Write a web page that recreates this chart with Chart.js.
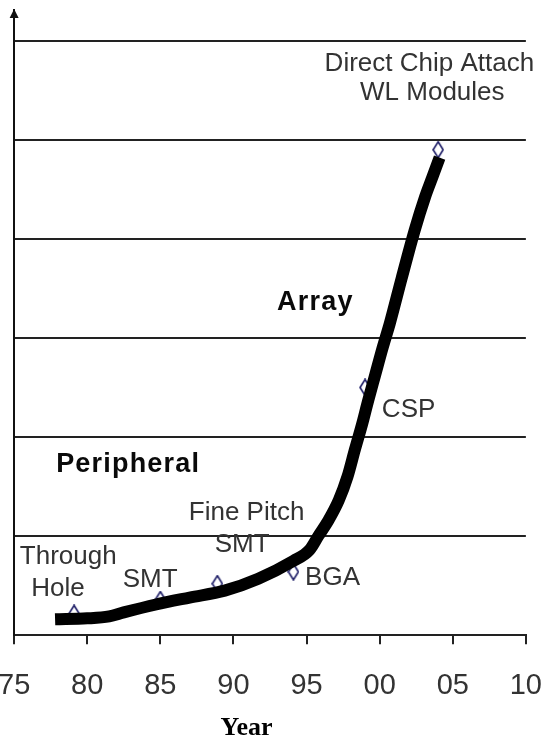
<!DOCTYPE html>
<html>
<head>
<meta charset="utf-8">
<script src="https://cdn.jsdelivr.net/npm/chart.js@4.4.1/dist/chart.umd.min.js"></script>
<style>
html, body { margin: 0; padding: 0; background: #fff; overflow: hidden; }
#wrap { position: absolute; left: -26px; top: 0; width: 592px; height: 741px; }
</style>
</head>
<body>
<div id="wrap"><canvas id="packagingChart"></canvas></div>
<script>
// anos no formato 75..110 (100 = 2000)
const curveYears  = [77.8, 80, 81.5, 82.5, 84.7, 87, 89.4, 91.7, 94.1, 95.2, 95.8, 96.5, 97.2, 97.8, 98.3, 98.8, 99.2, 99.7, 100.2, 100.7, 101.5, 102.4, 103.1, 103.6, 104.1];
const curveValues = [0.16, 0.17, 0.19, 0.23, 0.31, 0.38, 0.45, 0.57, 0.75, 0.86, 1.0, 1.16, 1.36, 1.6, 1.87, 2.13, 2.36, 2.63, 2.9, 3.15, 3.6, 4.09, 4.42, 4.62, 4.82];

const markerYears  = [79.1, 85.0, 88.9, 94.1, 99.0, 104.0];
const markerValues = [0.22, 0.36, 0.52, 0.64, 2.5, 4.9];

const tickYears  = [75, 80, 85, 90, 95, 100, 105, 110];
const tickLabels = ['75', '80', '85', '90', '95', '00', '05', '10'];

const noteTexts  = ['Direct Chip Attach', 'WL Modules', 'Array', 'CSP', 'Peripheral', 'Fine Pitch', 'SMT', 'Through', 'Hole', 'SMT', 'BGA'];
const noteYears  = [103.4, 103.6, 95.6, 100.15, 82.8, 90.9, 90.6, 78.7, 78.0, 84.3, 94.9];
const noteValues = [5.77, 5.47, 3.36, 2.27, 1.72, 1.24, 0.91, 0.79, 0.47, 0.56, 0.58];

const axisTitle = 'Year';

// marcador em losango (aberto, azul escuro)
const diamond = document.createElement('canvas');
diamond.width = 12;
diamond.height = 18;
const dctx = diamond.getContext('2d');
dctx.beginPath();
dctx.moveTo(6, 1);
dctx.lineTo(11, 9);
dctx.lineTo(6, 17);
dctx.lineTo(1, 9);
dctx.closePath();
dctx.fillStyle = '#fff';
dctx.fill();
dctx.strokeStyle = '#1c1c66';
dctx.lineWidth = 1.6;
dctx.stroke();

const boldNotes = ['Array', 'Peripheral'];
const leftNotes = ['CSP', 'BGA'];

const notesPlugin = {
    id: 'notes',
    afterDatasetsDraw(chart) {
        const c = chart.ctx;
        const x = chart.scales.x, y = chart.scales.y;
        c.save();
        c.textBaseline = 'middle';
        noteTexts.forEach((t, i) => {
            const bold = boldNotes.includes(t);
            c.font = (bold ? 'bold 27px ' : '26px ') + '"Liberation Sans", Arial, sans-serif';
            c.letterSpacing = bold ? '1.2px' : '0px';
            c.fillStyle = bold ? '#0a0a0a' : '#333';
            c.textAlign = leftNotes.includes(t) ? 'left' : 'center';
            c.fillText(t, x.getPixelForValue(noteYears[i]), y.getPixelForValue(noteValues[i]));
        });
        // seta no topo do eixo Y
        const ax = chart.chartArea.left, top = chart.chartArea.top;
        c.letterSpacing = '0px';
        c.fillStyle = '#111';
        c.beginPath();
        c.moveTo(ax, top - 1);
        c.lineTo(ax + 4.5, top + 8);
        c.lineTo(ax - 4.5, top + 8);
        c.closePath();
        c.fill();
        // titulo do eixo X
        c.font = 'bold 26px "Liberation Serif", "Times New Roman", serif';
        c.textAlign = 'center';
        c.fillStyle = '#000';
        c.fillText(axisTitle, x.getPixelForValue(90.9), chart.chartArea.bottom + 93);
        c.restore();
    }
};

const ctx = document.getElementById('packagingChart').getContext('2d');

let packagingChart = new Chart(ctx, {
    type: 'scatter',
    data: {
        datasets: [{
            label: 'Curva',
            data: curveYears.map((yr, i) => ({ x: yr, y: curveValues[i] })),
            showLine: true,
            borderColor: '#000',
            borderWidth: 12,
            borderCapStyle: 'butt',
            borderJoinStyle: 'round',
            cubicInterpolationMode: 'monotone',
            pointRadius: 0
        }, {
            label: 'Marcos',
            data: markerYears.map((yr, i) => ({ x: yr, y: markerValues[i] })),
            pointStyle: diamond,
            pointRadius: 6
        }]
    },
    options: {
        responsive: true,
        maintainAspectRatio: false,
        animation: false,
        layout: { padding: { left: 28, right: 16, top: 10, bottom: 14 } },
        plugins: { legend: { display: false }, tooltip: { enabled: false } },
        scales: {
            x: {
                type: 'linear',
                min: 75,
                max: 110,
                afterBuildTicks: s => { s.ticks = tickYears.map(v => ({ value: v })); },
                ticks: {
                    callback: v => tickLabels[tickYears.indexOf(v)],
                    font: { family: '"Liberation Sans", Arial, sans-serif', size: 29 },
                    color: '#333',
                    padding: 24,
                    maxRotation: 0,
                    autoSkip: false
                },
                grid: { drawOnChartArea: false, drawTicks: true, tickLength: 9, color: '#222', lineWidth: 2 },
                border: { display: true, color: '#222', width: 2 }
            },
            y: {
                min: 0,
                max: 6.31,
                afterBuildTicks: s => { s.ticks = s.ticks.filter(t => Number.isInteger(t.value)); },
                ticks: { display: false, stepSize: 1 },
                grid: { drawTicks: false, color: '#222', lineWidth: 2 },
                border: { display: true, color: '#111', width: 2 }
            }
        }
    },
    plugins: [notesPlugin]
});
</script>
</body>
</html>
